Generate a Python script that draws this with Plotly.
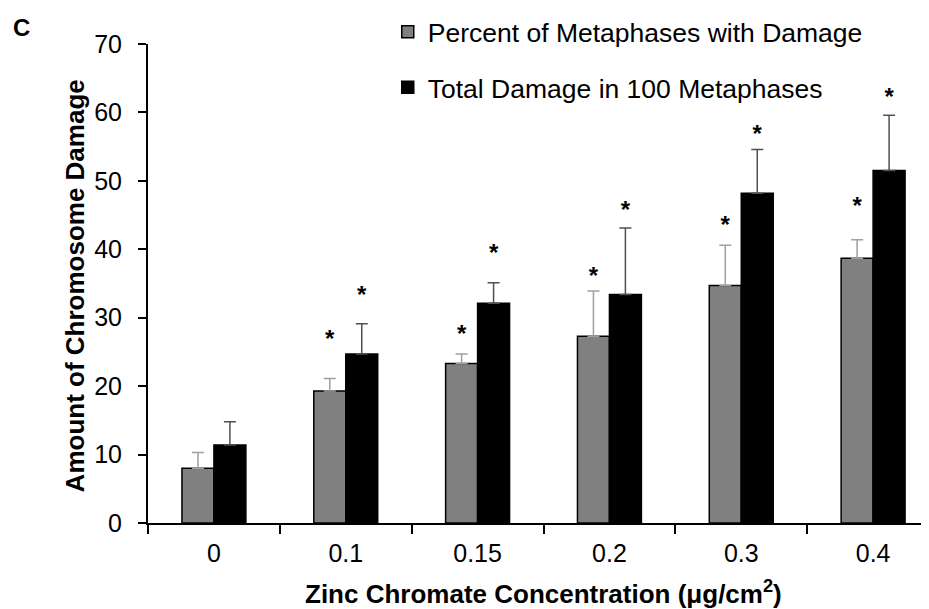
import plotly.graph_objects as go

categories = ["0", "0.1", "0.15", "0.2", "0.3", "0.4"]
pct_values = [8.0, 19.3, 23.3, 27.3, 34.7, 38.7]
pct_errors = [2.3, 1.8, 1.4, 6.6, 5.9, 2.7]
total_values = [11.4, 24.7, 32.1, 33.4, 48.2, 51.5]
total_errors = [3.4, 4.4, 3.0, 9.7, 6.4, 8.1]
star_pct = [None, 26.6, 27.4, 35.8, 43.3, 46.0]
star_total = [None, 33.1, 39.2, 45.4, 56.6, 62.0]
y_ticks = [0, 10, 20, 30, 40, 50, 60, 70]

FONT = "Liberation Sans, Arial, sans-serif"
GAP = 0.515

fig = go.Figure()
fig.add_trace(go.Bar(
    x=categories, y=pct_values, name="Percent of Metaphases with Damage",
    marker=dict(color="#808080", line=dict(color="#000000", width=1.5)),
    error_y=dict(type="data", array=pct_errors, arrayminus=[0]*6, symmetric=False,
                 color="#a0a0a0", thickness=1.5, width=6),
    legendgroup="a",
))
fig.add_trace(go.Bar(
    x=categories, y=total_values, name="Total Damage in 100 Metaphases",
    marker=dict(color="#000000", line=dict(color="#000000", width=1.5)),
    error_y=dict(type="data", array=total_errors, arrayminus=[0]*6, symmetric=False,
                 color="#505050", thickness=1.5, width=6),
    legendgroup="b",
))
for stars in (star_pct, star_total):
    xs = [c for c, s in zip(categories, stars) if s is not None]
    ys = [s for s in stars if s is not None]
    fig.add_trace(go.Scatter(
        x=xs, y=ys, mode="text", text=["*"] * len(ys),
        textposition="middle center",
        textfont=dict(family=FONT, size=24, color="#000000", weight="bold"),
        showlegend=False, hoverinfo="skip",
    ))

# page body has an 8px margin, so the figure is 8px smaller than the window
fig.update_layout(
    width=921, height=601,
    margin=dict(l=140, r=0, t=32, b=86),
    paper_bgcolor="white", plot_bgcolor="white",
    barmode="group", bargap=GAP, bargroupgap=0,
    scattermode="group", scattergap=GAP,
    font=dict(family=FONT, color="#000000"),
    showlegend=True,
    legend=dict(x=0.307, y=1.076, xanchor="left", yanchor="top",
                font=dict(size=26.5, family=FONT), tracegroupgap=18,
                bgcolor="rgba(0,0,0,0)"),
    xaxis=dict(type="category", range=[-0.5, 5.424], tickson="boundaries",
               ticks="outside", ticklen=9, tickwidth=1.5, tickcolor="#000000",
               showline=True, linecolor="#000000", linewidth=2,
               showgrid=False, zeroline=False,
               tickfont=dict(size=25, family=FONT), ticklabelstandoff=7),
    yaxis=dict(range=[0, 70], tickvals=y_ticks, ticks="outside", ticklen=8,
               tickwidth=1.5, tickcolor="#000000",
               showline=True, linecolor="#000000", linewidth=2,
               showgrid=False, zeroline=False,
               tickfont=dict(size=25, family=FONT), ticklabelstandoff=11),
    annotations=[
        dict(text="<b>Amount of Chromosome Damage</b>", xref="paper", yref="paper",
             x=-0.0935, y=0.496, xanchor="center", yanchor="middle", textangle=-90,
             showarrow=False, font=dict(size=26, family=FONT)),
        dict(text="<b>Zinc Chromate Concentration (μg/cm<sup>2</sup>)</b>", xref="paper", yref="paper",
             x=0.506, y=-0.145, xanchor="center", yanchor="middle",
             showarrow=False, font=dict(size=26, family=FONT)),
        dict(text="<b>C</b>", xref="paper", yref="paper",
             x=-0.1626, y=1.034, xanchor="center", yanchor="middle",
             showarrow=False, font=dict(size=24, family=FONT)),
    ],
)

fig.write_html("out.html")
